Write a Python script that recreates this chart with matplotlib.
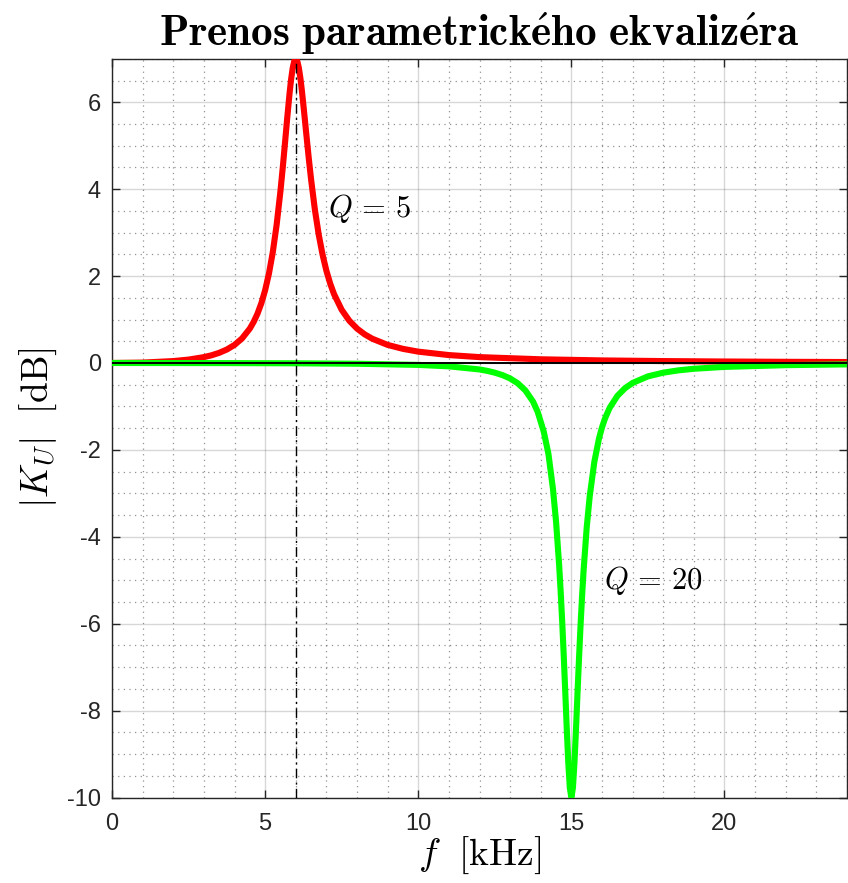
import matplotlib
matplotlib.use('Agg')
import matplotlib.pyplot as plt
from matplotlib.ticker import MultipleLocator

plt.rcParams['mathtext.fontset'] = 'cm'
plt.rcParams['font.family'] = ['Liberation Sans', 'DejaVu Sans']
plt.rcParams['axes.unicode_minus'] = False

# peaking filter, f0 = 6 kHz, +7 dB, Q = 5
freq_peak = [0, 1, 2, 2.5, 3, 3.25, 3.5, 3.75, 4, 4.25, 4.5, 4.625, 4.75, 4.875, 5,
             5.125, 5.25, 5.375, 5.5, 5.575, 5.65, 5.725, 5.8, 5.85, 5.9, 5.95,
             6, 6.05, 6.1, 6.15, 6.2, 6.275, 6.35, 6.425, 6.5, 6.625, 6.75, 6.875,
             7, 7.125, 7.25, 7.5, 7.75, 8, 8.25, 8.5, 9, 9.5,
             10, 11, 12, 14, 16, 18, 20, 22, 24]
gain_peak = [0.0, 0.009, 0.044, 0.078, 0.135, 0.177, 0.234, 0.310, 0.416, 0.568,
             0.792, 0.945, 1.134, 1.373, 1.675, 2.060, 2.552, 3.177, 3.956, 4.494,
             5.073, 5.667, 6.222, 6.540, 6.787, 6.946, 7.0, 6.947, 6.794, 6.561,
             6.266, 5.760, 5.227, 4.708, 4.226, 3.525, 2.953, 2.493, 2.124, 1.826,
             1.584, 1.223, 0.972, 0.792, 0.659, 0.558, 0.416, 0.325,
             0.261, 0.182, 0.135, 0.085, 0.059, 0.044, 0.034, 0.027, 0.022]

# notch filter, f0 = 15 kHz, -10 dB, Q = 20
freq_notch = [0, 2, 4, 6, 8, 10, 11, 12, 12.25, 12.5, 12.75, 13, 13.25, 13.5, 13.75,
              13.9, 14, 14.1, 14.25, 14.4, 14.5, 14.6, 14.65, 14.7, 14.75, 14.8,
              14.85, 14.9, 14.95, 15, 15.05, 15.1, 15.15, 15.2, 15.25, 15.3, 15.35,
              15.4, 15.5, 15.6, 15.75, 15.9, 16, 16.1, 16.25, 16.5, 16.75, 17,
              17.5, 18, 18.5, 19, 20, 22, 24]
gain_notch = [0.0, -0.001, -0.003, -0.007, -0.017, -0.044, -0.077, -0.149, -0.181,
              -0.223, -0.279, -0.356, -0.467, -0.633, -0.891, -1.125, -1.354, -1.586,
              -2.088, -2.906, -3.652, -4.645, -5.256, -5.947, -6.72, -7.559, -8.42,
              -9.208, -9.78, -10.0, -9.78, -9.21, -8.44, -7.602, -6.79, -6.034, -5.359,
              -4.765, -3.794, -3.061, -2.276, -1.744, -1.482, -1.274, -1.033, -0.759,
              -0.581, -0.459, -0.308, -0.223, -0.169, -0.133, -0.090, -0.050, -0.032]

f_mark = 6
labels = [r'$Q\,=\,5$', r'$Q\,=\,20$']
label_pos = [(7.05, 3.55), (16.05, -5.0)]

dark = '#262626'
fig = plt.figure(figsize=(8.48, 8.83), dpi=100)
ax = fig.add_axes([0.1321, 0.0968, 0.8667, 0.8366])

ax.plot(freq_peak, gain_peak, color='#ff0000', lw=4.4, zorder=3,
        solid_joinstyle='round')
ax.plot(freq_notch, gain_notch, color='#00ff00', lw=4.4, zorder=3,
        solid_joinstyle='round')
ax.axhline(0, color='k', lw=1.4, zorder=4)
ax.axvline(f_mark, color='k', lw=1.0, ls=(0, (7, 3, 1.5, 3)), zorder=5)

for txt, (x, y) in zip(labels, label_pos):
    ax.text(x, y, txt, fontsize=22, ha='left', va='center')

ax.set_xlim(0, 24)
ax.set_ylim(-10, 7)
ax.xaxis.set_major_locator(MultipleLocator(5))
ax.xaxis.set_minor_locator(MultipleLocator(1))
ax.yaxis.set_major_locator(MultipleLocator(2))
ax.yaxis.set_minor_locator(MultipleLocator(0.5))

ax.grid(which='major', color=dark, alpha=0.18, lw=1.0)
ax.grid(which='minor', color=dark, alpha=0.5, lw=0.9, ls=(0, (1, 3.5)))
ax.set_axisbelow(True)

ax.tick_params(which='major', direction='in', length=6, width=1, colors=dark,
               labelsize=17, top=True, right=True)
ax.tick_params(axis='x', which='major', pad=11)
ax.tick_params(axis='y', which='major', pad=8)
ax.tick_params(which='minor', length=0)
for sp in ax.spines.values():
    sp.set_color(dark)
    sp.set_linewidth(1.0)

ax.set_xlabel(r'$f\ \ [\mathrm{kHz}]$', fontsize=27, labelpad=0)
ax.set_ylabel(r'$|K_U|\ \ [\mathrm{dB}]$', fontsize=27, labelpad=6)
ax.set_title(r'$\mathbf{Prenos\ parametrick\acute{e}ho\ ekvaliz\acute{e}ra}$',
             fontsize=31, pad=9)

fig.savefig('out.png', dpi=100)
